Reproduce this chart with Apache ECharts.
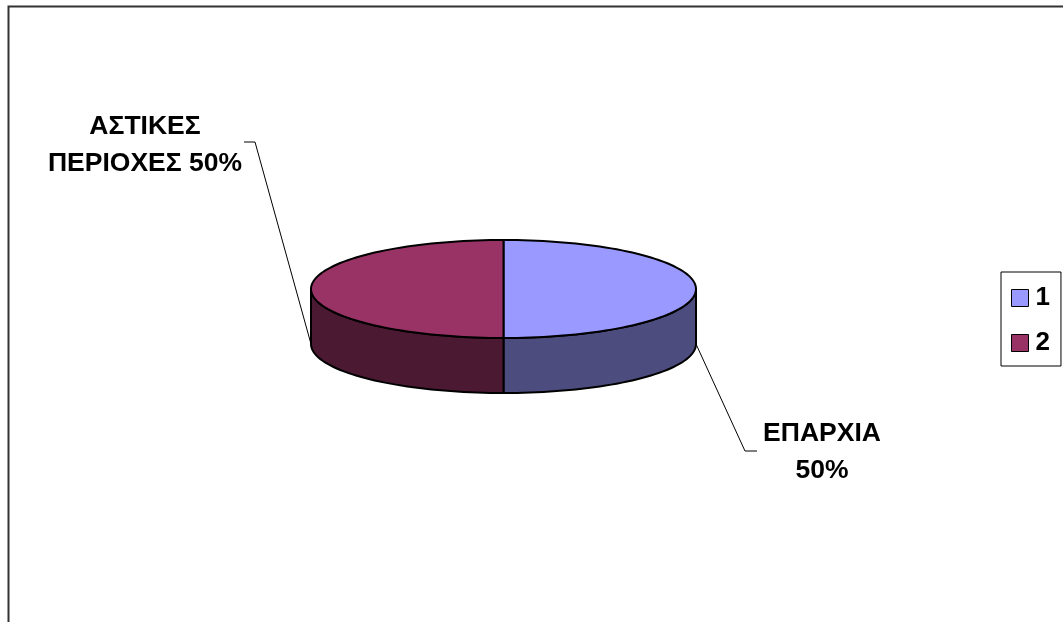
<!DOCTYPE html>
<html>
<head>
<meta charset="utf-8">
<script src="https://cdn.jsdelivr.net/npm/echarts@6/dist/echarts.min.js"></script>
<style>
html,body{margin:0;padding:0;background:#fff;}
#chart{width:1063px;height:622px;}
</style>
</head>
<body>
<div id="chart"></div>
<script>
// ---- data ----
const categories = ['1', '2'];
const values = [50, 50];
const sliceNames = ['ΕΠΑΡΧΙΑ', 'ΑΣΤΙΚΕΣ\nΠΕΡΙΟΧΕΣ'];
const labelSeparators = ['\n', ' '];

// ---- styles / layout ----
const topColors = ['#9999FF', '#993366'];
const sideColors = ['#4C4C7F', '#4C1933'];
const PIE = { cx: 503.5, cy: 289, rx: 192.5, ry: 49, depth: 55 };
const LABEL_LAYOUT = [
  { text: [126, 108], bend: [49, 107], end: [61, 107] },
  { text: [-166, -199], bend: [-56, -202], end: [-67, -202] }
];
const FONT = 'bold 26.5px "Liberation Sans", Arial, sans-serif';

const total = values.reduce((a, b) => a + b, 0);

function pt(t, dy) {
  return [PIE.cx + PIE.rx * Math.sin(t), PIE.cy - PIE.ry * Math.cos(t) + dy];
}
function arc(a, b, dy) {
  const pts = [];
  const n = Math.max(2, Math.ceil(Math.abs(b - a) / (Math.PI * 2) * 180));
  for (let k = 0; k <= n; k++) pts.push(pt(a + (b - a) * k / n, dy));
  return pts;
}

function makeRenderItem(idx) {
  return function (params, api) {
    const v = api.value(0);
    let before = 0;
    for (let j = 0; j < idx; j++) before += values[j];
    const t0 = 2 * Math.PI * before / total;
    const t1 = 2 * Math.PI * (before + v) / total;
    const children = [];
    // side wall (front half only)
    const a = Math.max(t0, Math.PI / 2), b = Math.min(t1, Math.PI * 1.5);
    if (b > a) {
      const pts = arc(a, b, 0).concat(arc(b, a, PIE.depth));
      children.push({
        type: 'polygon', shape: { points: pts },
        style: { fill: sideColors[idx], stroke: '#000', lineWidth: 2, lineJoin: 'round' }
      });
    }
    // top face
    const topPts = [[PIE.cx, PIE.cy]].concat(arc(t0, t1, 0));
    children.push({
      type: 'polygon', shape: { points: topPts },
      style: { fill: topColors[idx], stroke: '#000', lineWidth: 2, lineJoin: 'round' }
    });
    // label + leader line
    const mid = (t0 + t1) / 2;
    const anchor = pt(mid, PIE.depth);
    const L = LABEL_LAYOUT[idx];
    children.push({
      type: 'polyline',
      shape: { points: [anchor, [anchor[0] + L.bend[0], anchor[1] + L.bend[1]], [anchor[0] + L.end[0], anchor[1] + L.end[1]]] },
      style: { stroke: '#000', lineWidth: 1, fill: null }
    });
    const pct = Math.round(v / total * 100) + '%';
    children.push({
      type: 'text',
      style: {
        x: anchor[0] + L.text[0], y: anchor[1] + L.text[1],
        text: sliceNames[idx] + labelSeparators[idx] + pct,
        font: FONT, fill: '#000', align: 'center', verticalAlign: 'middle', lineHeight: 37
      }
    });
    return { type: 'group', children: children };
  };
}

const chart = echarts.init(document.getElementById('chart'), null, { renderer: 'canvas' });
chart.setOption({
  backgroundColor: '#fff',
  animation: false,
  graphic: [{
    type: 'rect', silent: true, z: -10,
    shape: { x: 8.5, y: 6.5, width: 1200, height: 800 },
    style: { fill: null, stroke: '#333', lineWidth: 2 }
  }],
  legend: {
    orient: 'vertical',
    left: 1001, top: 272,
    data: categories,
    icon: 'rect',
    itemWidth: 17, itemHeight: 17, itemGap: 19,
    padding: [13, 11, 10, 10],
    backgroundColor: '#fff',
    borderColor: '#000', borderWidth: 1, borderRadius: 0,
    itemStyle: { borderColor: '#000', borderWidth: 1 },
    textStyle: { fontFamily: '"Liberation Sans", Arial, sans-serif', fontWeight: 'bold', fontSize: 26, color: '#000', lineHeight: 26, padding: [0, 0, 0, 2] },
    selectedMode: false
  },
  series: categories.map((c, i) => ({
    type: 'custom',
    name: c,
    coordinateSystem: 'none',
    itemStyle: { color: topColors[i] },
    renderItem: makeRenderItem(i),
    data: [values[i]],
    silent: true
  }))
});
</script>
</body>
</html>
